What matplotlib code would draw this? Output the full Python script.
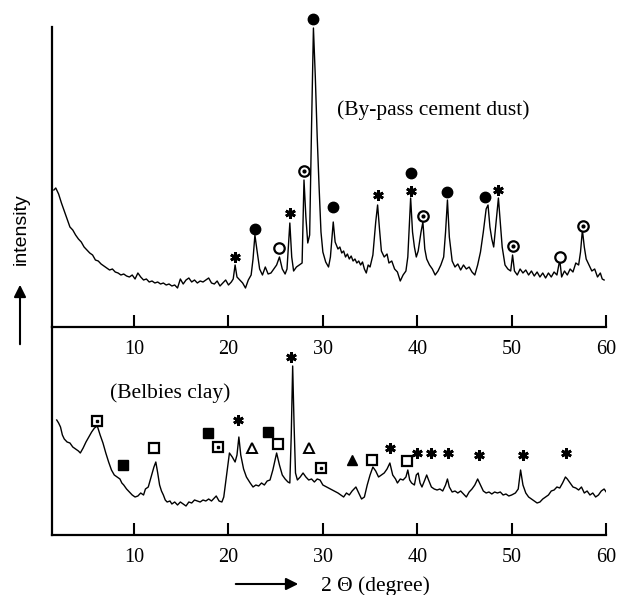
import matplotlib.pyplot as plt
from matplotlib.patches import FancyArrowPatch

# upper pattern: by-pass cement dust
top_theta = [1.5, 1.7, 2.0, 2.3, 2.6, 2.9, 3.2, 3.5, 3.8, 4.1, 4.4, 4.7, 5.0, 5.3, 5.6, 5.9,
             6.2, 6.5, 6.8, 7.1, 7.4, 7.7, 8.0, 8.3, 8.6, 8.9, 9.2, 9.5, 9.8, 10.1, 10.4,
             10.7, 11.0, 11.3, 11.6, 11.9, 12.2, 12.5, 12.8, 13.1, 13.4, 13.7, 14.0, 14.3,
             14.6, 14.9, 15.2, 15.5, 15.8, 16.1, 16.4, 16.7, 17.0, 17.3, 17.6, 17.9, 18.2,
             18.5, 18.8, 19.1, 19.4, 19.7, 20.0, 20.3, 20.5, 20.7, 20.9, 21.2, 21.5, 21.8,
             22.1, 22.4, 22.6, 22.8, 23.0, 23.3, 23.6, 23.9, 24.2, 24.5, 24.8, 25.1, 25.4,
             25.7, 26.0, 26.2, 26.5, 26.7, 26.9, 27.2, 27.5, 27.8, 28.0, 28.2, 28.4, 28.6,
             28.8, 29.0, 29.2, 29.4, 29.6, 29.8, 30.0, 30.3, 30.6, 30.8, 31.1, 31.3, 31.6,
             31.8, 32.0, 32.2, 32.4, 32.6, 32.8, 33.0, 33.2, 33.4, 33.6, 33.8, 34.0, 34.2,
             34.4, 34.6, 34.8, 35.0, 35.3, 35.6, 35.8, 36.0, 36.2, 36.5, 36.8, 37.0, 37.3,
             37.6, 37.9, 38.2, 38.5, 38.8, 39.0, 39.3, 39.5, 39.7, 39.9, 40.1, 40.4, 40.6,
             40.8, 41.0, 41.3, 41.6, 41.9, 42.2, 42.5, 42.8, 43.0, 43.2, 43.4, 43.7, 44.0,
             44.3, 44.6, 44.9, 45.2, 45.5, 45.8, 46.1, 46.4, 46.7, 47.0, 47.3, 47.5, 47.7,
             47.9, 48.1, 48.3, 48.6, 48.8, 49.0, 49.3, 49.6, 49.9, 50.1, 50.3, 50.6, 50.9,
             51.2, 51.5, 51.8, 52.1, 52.4, 52.7, 53.0, 53.3, 53.6, 53.9, 54.2, 54.5, 54.8,
             55.1, 55.3, 55.6, 55.9, 56.2, 56.5, 56.8, 57.1, 57.3, 57.5, 57.7, 57.9, 58.2,
             58.5, 58.8, 59.1, 59.4, 59.6, 59.8]
top_counts = [137, 139, 133, 124, 116, 108, 100, 97, 92, 88, 85, 80, 77, 74, 72, 67,
              66, 63, 61, 59, 57, 58, 55, 54, 52, 53, 51, 50, 52, 48, 54,
              50, 47, 48, 45, 46, 44, 45, 43, 44, 42, 43, 41, 42,
              39, 48, 43, 47, 49, 45, 47, 44, 46, 45, 47, 49, 44,
              43, 46, 41, 44, 47, 42, 45, 48, 62, 50, 47, 44, 39,
              47, 52, 68, 92, 78, 58, 52, 60, 53, 54, 58, 62, 70,
              58, 53, 58, 104, 70, 56, 60, 62, 64, 147, 110, 84, 92,
              200, 299, 250, 190, 140, 95, 75, 65, 60, 70, 105, 85, 78,
              80, 74, 76, 70, 73, 68, 71, 66, 68, 64, 66, 62, 65,
              58, 54, 62, 60, 72, 105, 122, 98, 76, 70, 73, 64, 66,
              58, 55, 46, 52, 56, 70, 129, 95, 80, 70, 76, 95, 105,
              78, 68, 62, 58, 52, 56, 62, 70, 95, 127, 90, 66, 60,
              63, 57, 62, 58, 60, 55, 52, 62, 75, 95, 118, 122, 100,
              88, 80, 100, 129, 105, 80, 62, 58, 56, 72, 56, 52, 58,
              54, 57, 52, 56, 51, 55, 50, 54, 49, 54, 50, 55, 52,
              67, 50, 56, 52, 58, 55, 64, 62, 75, 97, 80, 68, 62,
              56, 58, 50, 54, 48, 47]

# lower pattern: Belbies clay
bot_theta = [1.8, 2.0, 2.2, 2.4, 2.6, 2.9, 3.2, 3.5, 3.8, 4.1, 4.3, 4.6, 4.9, 5.2, 5.5,
             5.8, 6.1, 6.4, 6.7, 7.0, 7.3, 7.6, 7.9, 8.2, 8.5, 8.7, 8.9, 9.2, 9.5, 9.8,
             10.1, 10.4, 10.7, 11.0, 11.2, 11.5, 11.8, 12.1, 12.3, 12.5, 12.7, 12.9, 13.1,
             13.3, 13.5, 13.8, 14.0, 14.3, 14.6, 14.9, 15.2, 15.5, 15.8, 16.1, 16.4, 16.7,
             17.0, 17.3, 17.6, 17.9, 18.2, 18.5, 18.7, 19.0, 19.3, 19.5, 19.8, 20.1, 20.4,
             20.7, 20.9, 21.1, 21.3, 21.6, 21.9, 22.1, 22.3, 22.6, 22.9, 23.2, 23.5, 23.8,
             24.1, 24.4, 24.7, 25.1, 25.4, 25.7, 26.0, 26.3, 26.5, 26.65, 26.8, 26.95,
             27.1, 27.3, 27.6, 27.9, 28.2, 28.5, 28.8, 29.1, 29.4, 29.7, 30.0, 30.4, 30.8,
             31.2, 31.6, 31.9, 32.2, 32.5, 32.8, 33.1, 33.5, 33.8, 34.1, 34.4, 34.7, 35.0,
             35.3, 35.6, 35.9, 36.2, 36.5, 36.8, 37.1, 37.4, 37.7, 37.9, 38.2, 38.5, 38.8,
             39.0, 39.2, 39.4, 39.7, 39.9, 40.1, 40.3, 40.5, 40.8, 41.0, 41.2, 41.5, 41.8,
             42.1, 42.4, 42.7, 43.0, 43.2, 43.4, 43.7, 44.0, 44.3, 44.6, 44.9, 45.2, 45.5,
             45.8, 46.1, 46.4, 46.7, 47.0, 47.3, 47.6, 47.9, 48.2, 48.5, 48.8, 49.1, 49.4,
             49.7, 50.0, 50.4, 50.7, 50.95, 51.2, 51.5, 51.8, 52.1, 52.4, 52.7, 53.0, 53.3,
             53.6, 53.9, 54.2, 54.5, 54.8, 55.1, 55.4, 55.7, 55.9, 56.2, 56.5, 56.8, 57.1,
             57.4, 57.7, 58.0, 58.3, 58.6, 58.9, 59.2, 59.5, 59.8, 60.1]
bot_counts = [115, 112, 108, 100, 96, 93, 92, 88, 86, 84, 82, 87, 93, 98, 103,
              107, 109, 100, 92, 82, 73, 65, 60, 58, 56, 52, 50, 46, 43, 40,
              38, 39, 42, 40, 46, 48, 58, 68, 73, 62, 50, 44, 40,
              35, 33, 34, 31, 33, 30, 33, 31, 29, 33, 32, 35, 34,
              33, 35, 34, 36, 34, 37, 39, 34, 33, 38, 60, 82, 78,
              73, 80, 98, 80, 66, 58, 55, 52, 48, 50, 49, 52, 50,
              54, 55, 65, 82, 70, 60, 56, 53, 52, 100, 169, 110,
              62, 55, 58, 62, 58, 55, 56, 53, 56, 55, 50, 48, 46,
              44, 42, 40, 38, 42, 40, 44, 48, 42, 36, 38, 50, 60,
              68, 64, 58, 60, 62, 66, 72, 60, 56, 52, 56, 55, 58,
              65, 55, 52, 50, 60, 62, 52, 48, 55, 60, 55, 48, 46,
              45, 46, 44, 50, 56, 48, 43, 44, 42, 44, 41, 38, 43,
              46, 50, 56, 50, 44, 42, 43, 41, 43, 42, 43, 40, 41,
              39, 40, 42, 46, 65, 50, 42, 38, 36, 34, 32, 33, 36,
              38, 40, 44, 45, 48, 47, 52, 58, 56, 52, 48, 47, 45,
              48, 42, 44, 40, 42, 38, 40, 44, 46, 42]

# phase markers above peaks (2theta, height)
top_star_x = [20.7, 26.5, 35.8, 39.3, 48.6]
top_star_y = [70, 114, 132, 136, 137]
top_disc_x = [22.8, 29.0, 31.1, 39.3, 43.2, 47.2]
top_disc_y = [98, 308, 120, 154, 135, 130]
top_ring_x = [25.4, 55.1]
top_ring_y = [79, 70]
top_dring_x = [28.0, 40.6, 50.1, 57.6]
top_dring_y = [156, 111, 81, 101]

bot_star_x = [21.0, 26.6, 37.1, 40.0, 41.5, 43.3, 46.5, 51.2, 55.8]
bot_star_y = [115, 178, 87, 82, 82, 82, 80, 80, 82]
bot_fsq_x = [8.8, 17.8, 24.2]
bot_fsq_y = [70, 102, 103]
bot_osq_x = [12.1, 25.2, 35.2, 38.9]
bot_osq_y = [87, 91, 75, 74]
bot_dsq_x = [6.1, 18.9, 29.8]
bot_dsq_y = [114, 88, 67]
bot_otri_x = [22.5, 28.5]
bot_otri_y = [87, 87]
bot_ftri_x = [33.1]
bot_ftri_y = [75]

xticks = [10, 20, 30, 40, 50, 60]

plt.rcParams['font.family'] = 'Liberation Serif'

W, H = 618, 595
fig = plt.figure(figsize=(W / 100, H / 100), dpi=100)
ax1 = fig.add_axes([52 / W, 1 - 327 / H, (606 - 52) / W, 300 / H])
ax2 = fig.add_axes([52 / W, 1 - 535 / H, (606 - 52) / W, 208 / H])

for ax in (ax1, ax2):
    ax.set_xlim(1.3, 60)
    ax.spines['top'].set_visible(False)
    ax.spines['right'].set_visible(False)
    for s in ('left', 'bottom'):
        ax.spines[s].set_linewidth(1.6)
    ax.set_xticks(xticks)
    ax.set_yticks([])
    ax.tick_params(axis='x', direction='in', length=9, width=1.5, pad=9, labelsize=14.5)
    ax.patch.set_alpha(0)

ax1.set_ylim(0, 300)
ax2.set_ylim(0, 208)

ax1.plot(top_theta, top_counts, color='k', lw=1.0)
ax2.plot(bot_theta, bot_counts, color='k', lw=1.0)

ms = 7.5
star = dict(marker=(6, 2, 0), ls='none', color='k', ms=7.5, mew=2.0, clip_on=False)
ax1.plot(top_star_x, top_star_y, **star)
ax1.plot(top_disc_x, top_disc_y, 'o', color='k', ms=ms, clip_on=False)
ax1.plot(top_ring_x, top_ring_y, 'o', mfc='white', mec='k', mew=1.6, ms=ms, clip_on=False)
ax1.plot(top_dring_x, top_dring_y, 'o', mfc='white', mec='k', mew=1.6, ms=ms, clip_on=False)
ax1.plot(top_dring_x, top_dring_y, 'o', color='k', ms=2, clip_on=False)

ax2.plot(bot_star_x, bot_star_y, **star)
ax2.plot(bot_fsq_x, bot_fsq_y, 's', color='k', ms=ms, clip_on=False)
ax2.plot(bot_osq_x, bot_osq_y, 's', mfc='white', mec='k', mew=1.6, ms=ms, clip_on=False)
ax2.plot(bot_dsq_x, bot_dsq_y, 's', mfc='white', mec='k', mew=1.6, ms=ms, clip_on=False)
ax2.plot(bot_dsq_x, bot_dsq_y, 's', color='k', ms=2, clip_on=False)
ax2.plot(bot_otri_x, bot_otri_y, '^', mfc='white', mec='k', mew=1.4, ms=ms, clip_on=False)
ax2.plot(bot_ftri_x, bot_ftri_y, '^', color='k', ms=ms, clip_on=False)

ax1.text(41.7, 217, '(By-pass cement dust)', ha='center', va='center', fontsize=15.5)
ax2.text(13.8, 142, '(Belbies clay)', ha='center', va='center', fontsize=15.5)

# axis captions with arrows
fig.text(21 / W, 1 - 229 / H, 'intensity', rotation=90, ha='center', va='center',
         fontsize=14, family='Liberation Sans')
fig.add_artist(FancyArrowPatch(
    (20 / W, 1 - 347 / H), (20 / W, 1 - 282 / H), transform=fig.transFigure,
    arrowstyle='-|>', mutation_scale=18, lw=1.5, color='k'))
fig.add_artist(FancyArrowPatch(
    (233 / W, 1 - 584 / H), (301 / W, 1 - 584 / H), transform=fig.transFigure,
    arrowstyle='-|>', mutation_scale=18, lw=1.5, color='k'))
fig.text(375 / W, 1 - 586 / H, '2 \u0398 (degree)', ha='center', va='center', fontsize=15.5)

fig.savefig('out.png', dpi=100)
